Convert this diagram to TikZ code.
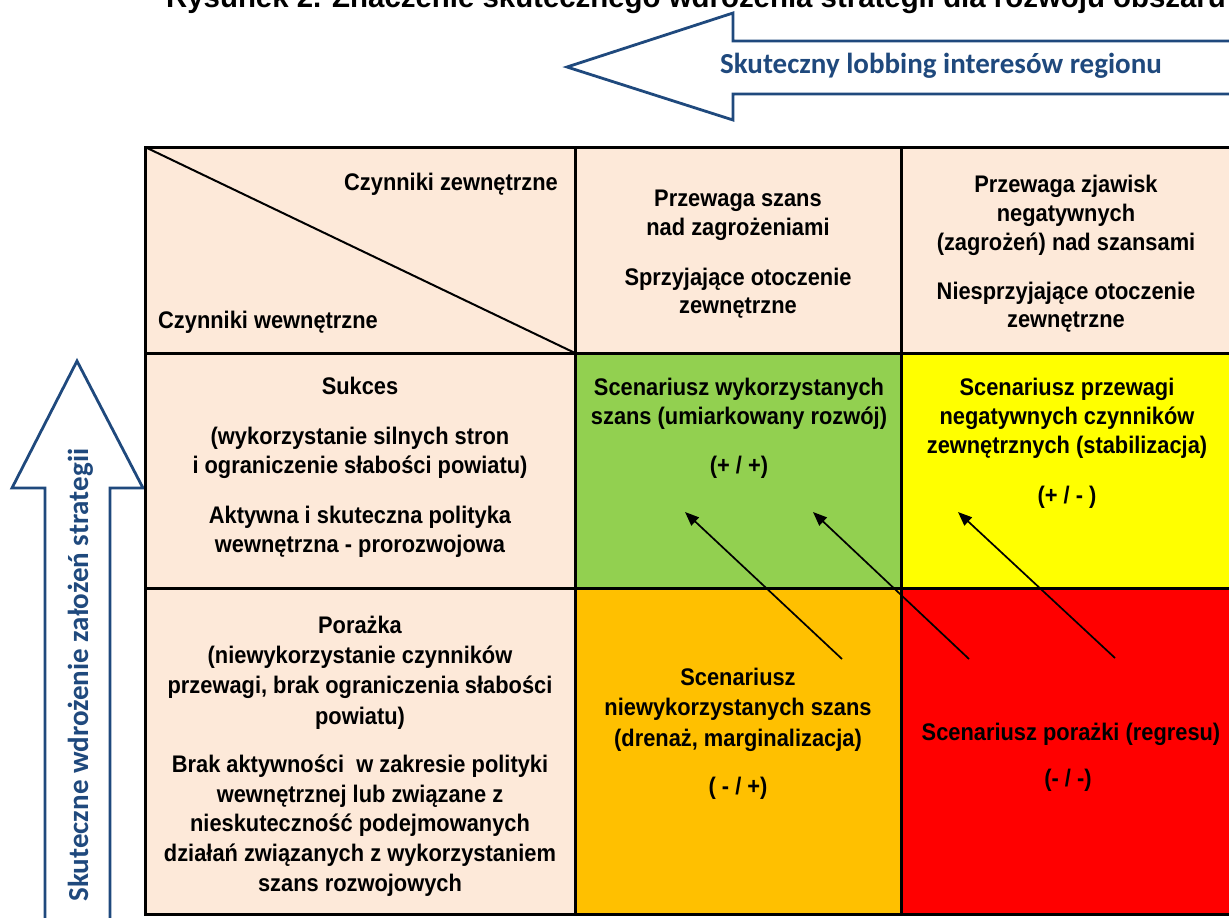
\documentclass[tikz,border=0pt]{standalone}
\usepackage{fontspec}
\usetikzlibrary{arrows.meta}
\newfontfamily\cellfont{Liberation Sans}[FakeStretch=0.91]
\newfontfamily\titlefont{Liberation Sans}
\newfontfamily\arrowfont{Carlito}
\definecolor{cellpink}{HTML}{FDE9D9}
\definecolor{cellgreen}{HTML}{92D050}
\definecolor{cellyellow}{HTML}{FFFF00}
\definecolor{cellorange}{HTML}{FFC000}
\definecolor{cellred}{HTML}{FF0000}
\definecolor{arrowblue}{HTML}{1F497D}
\tikzset{
  txt/.style={anchor=base, inner sep=0pt, font=\cellfont\bfseries\fontsize{24}{29}\selectfont},
  bigarrow/.style={draw=arrowblue, line width=2.8pt, fill=white, line join=miter},
  arrowtxt/.style={anchor=base, inner sep=0pt, text=arrowblue, font=\arrowfont\bfseries\fontsize{29}{34}\selectfont},
  trend/.style={-{Triangle[length=14pt,width=11pt]}, line width=1.7pt},
  gridline/.style={line width=3pt}
}
\begin{document}
\begin{tikzpicture}[x=1pt,y=-1pt]
  \useasboundingbox (0,0) rectangle (1229,918);
  \clip (0,0) rectangle (1229,918);

  \node[anchor=base, inner sep=0pt, font=\titlefont\bfseries\fontsize{29.4}{34}\selectfont] (title) at (696,7) {Rysunek 2. Znaczenie skutecznego wdrożenia strategii dla rozwoju obszaru};

  % block arrows
  \draw[bigarrow] (567,67) -- (733,13) -- (733,41) -- (1245,41) -- (1245,94) -- (733,94) -- (733,120) -- cycle;
  \node[arrowtxt] (lobby) at (941,73) {Skuteczny lobbing interesów regionu};

  \draw[bigarrow] (77,361) -- (143,488) -- (110,488) -- (110,935) -- (45,935) -- (45,488) -- (12,488) -- cycle;
  \node[arrowtxt, rotate=90] (wdroz) at (88,675) {Skuteczne wdrożenie założeń strategii};

  % cells
  \fill[cellpink] (145,147) rectangle (1235,353);
  \fill[cellpink] (145,353) rectangle (575,914);
  \fill[cellgreen] (575,353) rectangle (901,588);
  \fill[cellyellow] (901,353) rectangle (1235,588);
  \fill[cellorange] (575,588) rectangle (901,914);
  \fill[cellred] (901,588) rectangle (1235,914);

  \draw[gridline] (145,147) rectangle (1235,914);
  \draw[gridline] (145,353) -- (1235,353);
  \draw[gridline] (145,588) -- (1235,588);
  \draw[gridline] (575,147) -- (575,914);
  \draw[gridline] (901,147) -- (901,914);
  \draw[line width=2pt] (145,147) -- (575,353);

  % header
  \node[txt, anchor=base east] (zew) at (558,190) {Czynniki zewnętrzne};
  \node[txt, anchor=base west] (wew) at (158,328) {Czynniki wewnętrzne};

  \node[txt] (h1a) at (738,206) {Przewaga szans};
  \node[txt] (h1b) at (738,235) {nad zagrożeniami};
  \node[txt] (h1c) at (738,285) {Sprzyjające otoczenie};
  \node[txt] (h1d) at (738,313) {zewnętrzne};

  \node[txt] (h2a) at (1066,192) {Przewaga zjawisk};
  \node[txt] (h2b) at (1066,221) {negatywnych};
  \node[txt] (h2c) at (1066,250) {(zagrożeń) nad szansami};
  \node[txt] (h2d) at (1066,299) {Niesprzyjające otoczenie};
  \node[txt] (h2e) at (1066,327) {zewnętrzne};

  % row 1
  \node[txt] (s1) at (360,394) {Sukces};
  \node[txt] (s2) at (360,444) {(wykorzystanie silnych stron};
  \node[txt] (s3) at (360,473) {i ograniczenie słabości powiatu)};
  \node[txt] (s4) at (360,523) {Aktywna i skuteczna polityka};
  \node[txt] (s5) at (360,552) {wewnętrzna - prorozwojowa};

  \node[txt] (g1) at (739,395) {Scenariusz wykorzystanych};
  \node[txt] (g2) at (739,424) {szans (umiarkowany rozwój)};
  \node[txt] (g3) at (739,473) {(+ / +)};

  \node[txt] (y1) at (1067,395) {Scenariusz przewagi};
  \node[txt] (y2) at (1067,424) {negatywnych czynników};
  \node[txt] (y3) at (1067,453) {zewnętrznych (stabilizacja)};
  \node[txt] (y4) at (1067,503) {(+ / - )};

  % row 2
  \node[txt] (p1) at (360,633) {Porażka};
  \node[txt] (p2) at (360,663) {(niewykorzystanie czynników};
  \node[txt] (p3) at (360,693) {przewagi, brak ograniczenia słabości};
  \node[txt] (p4) at (360,724) {powiatu)};
  \node[txt] (p5) at (360,772) {Brak aktywności\ \ w zakresie polityki};
  \node[txt] (p6) at (360,802) {wewnętrznej lub związane z};
  \node[txt] (p7) at (360,831) {nieskuteczność podejmowanych};
  \node[txt] (p8) at (360,861) {działań związanych z wykorzystaniem};
  \node[txt] (p9) at (360,891) {szans rozwojowych};

  \node[txt] (o1) at (738,685) {Scenariusz};
  \node[txt] (o2) at (738,715) {niewykorzystanych szans};
  \node[txt] (o3) at (738,746) {(drenaż, marginalizacja)};
  \node[txt] (o4) at (738,794) {( - / +)};

  \node[txt] (r1) at (1071,740) {Scenariusz porażki (regresu)};
  \node[txt] (r2) at (1068,786) {(- / -)};

  % trend arrows
  \coordinate (t1s) at (842,659);
  \coordinate (t1e) at (685,512);
  \coordinate (t2s) at (969,659);
  \coordinate (t2e) at (813,512);
  \coordinate (t3s) at (1115,658);
  \coordinate (t3e) at (958,512);
  \draw[trend] (t1s) -- (t1e);
  \draw[trend] (t2s) -- (t2e);
  \draw[trend] (t3s) -- (t3e);

\end{tikzpicture}
\end{document}
